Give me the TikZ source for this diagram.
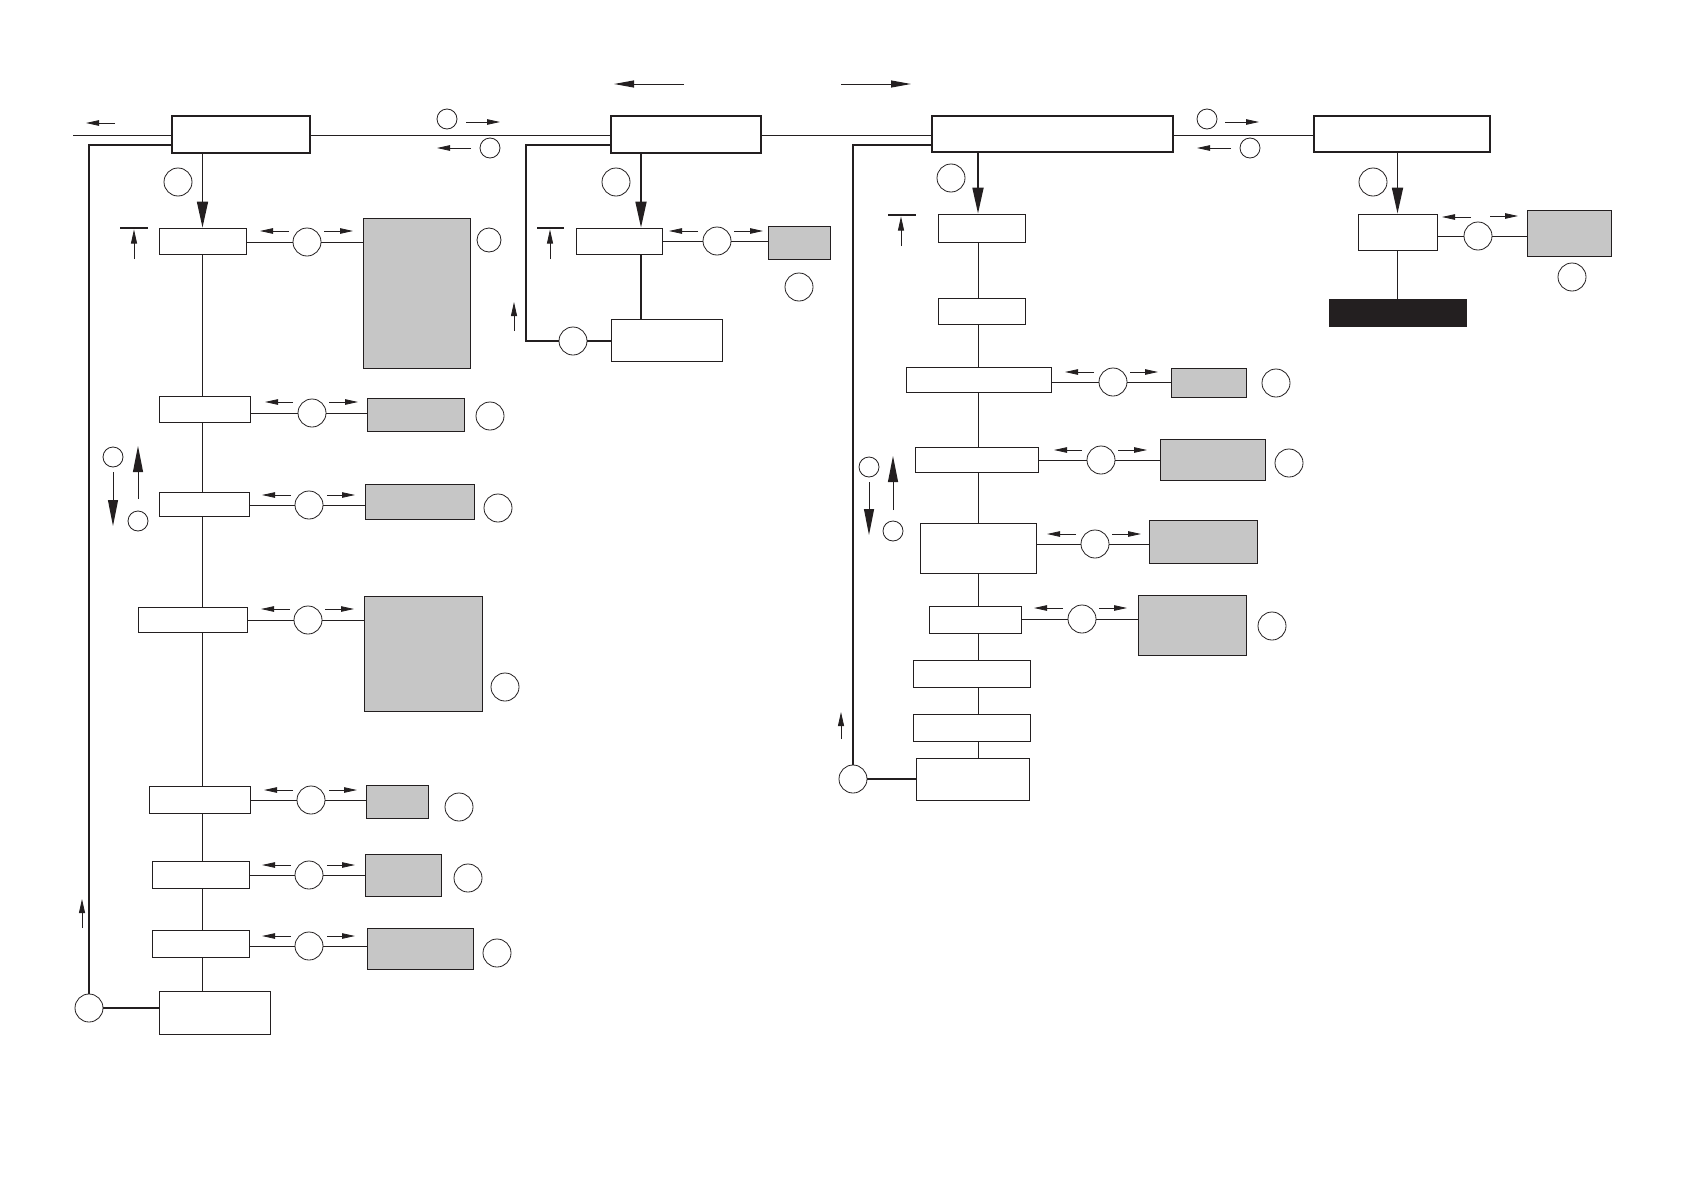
\documentclass[tikz,border=0pt]{standalone}
\usetikzlibrary{arrows.meta}
\definecolor{ink}{HTML}{231F20}
\definecolor{shade}{HTML}{C6C6C6}
\pgfdeclarelayer{bg}
\pgfsetlayers{bg,main}
\begin{document}
\begin{tikzpicture}[x=1pt,y=-1pt,
  box/.style={draw=ink,fill=white,line width=0.8pt,inner sep=0pt,rectangle},
  mainbox/.style={box,line width=1.6pt},
  graybox/.style={box,fill=shade},
  blackbox/.style={box,fill=ink},
  circ/.style={draw=ink,fill=white,circle,inner sep=0pt,minimum size=28pt,line width=0.8pt},
  scirc/.style={circ,minimum size=20pt},
  mcirc/.style={circ,minimum size=24pt},
  thinline/.style={draw=ink,line width=0.8pt},
  midline/.style={draw=ink,line width=1.6pt},
  heavyline/.style={draw=ink,line width=1.6pt},
  bigarr/.style={draw=ink,line width=1.7pt,-{Triangle[length=26pt,width=11pt]}},
  vertarr/.style={draw=ink,line width=1pt,-{Triangle[length=26pt,width=10pt]}},
  toparr/.style={draw=ink,line width=1pt,-{Triangle[length=20pt,width=7pt]}},
  sidearr/.style={draw=ink,line width=0.8pt,-{Triangle[length=13pt,width=5.5pt]}},
  tarr/.style={draw=ink,line width=0.8pt,-{Triangle[length=14pt,width=6pt]}},
  tbar/.style={draw=ink,line width=1.4pt}
]
\useasboundingbox (0,0) rectangle (1684,1191);

% ---------------- top boxes
\node[mainbox,minimum width=138pt,minimum height=37pt] (A1) at (241,134.5) {};
\node[mainbox,minimum width=150pt,minimum height=37pt] (A2) at (686,134.5) {};
\node[mainbox,minimum width=241pt,minimum height=36pt] (A3) at (1052.5,134) {};
\node[mainbox,minimum width=176pt,minimum height=36pt] (A4) at (1402,134) {};

\coordinate (w0) at (73,135);
\coordinate (k1) at (89,145);
\coordinate (k2) at (526,145);
\coordinate (k2b) at (526,341);
\coordinate (k3) at (853,145);
\coordinate (x2) at (641,0);
\coordinate (x3) at (978,0);

% ---------------- column 1
\node[box,minimum width=87pt,minimum height=26pt] (B1) at (202.5,241) {};
\node[circ] (c1) at (307,242) {};
\node[graybox,minimum width=107pt,minimum height=150pt] (g1) at (416.5,293) {};
\node[mcirc] (l1) at (489,240) {};

\node[box,minimum width=91pt,minimum height=26pt] (R12) at (204.5,409) {};
\node[circ] (c12) at (312,413) {};
\node[graybox,minimum width=97pt,minimum height=33pt] (g12) at (415.5,414.5) {};
\node[circ] (l12) at (490,416) {};

\node[box,minimum width=90pt,minimum height=24pt] (R13) at (204,504) {};
\node[circ] (c13) at (309,505) {};
\node[graybox,minimum width=109pt,minimum height=35pt] (g13) at (419.5,501.5) {};
\node[circ] (l13) at (498,508) {};

\node[box,minimum width=109pt,minimum height=25pt] (R14) at (192.5,619.5) {};
\node[circ] (c14) at (308,620) {};
\node[graybox,minimum width=118pt,minimum height=115pt] (g14) at (423,653.5) {};
\node[circ] (l14) at (505,687) {};

\node[box,minimum width=101pt,minimum height=27pt] (R15) at (199.5,799.5) {};
\node[circ] (c15) at (311,800) {};
\node[graybox,minimum width=62pt,minimum height=33pt] (g15) at (397,801.5) {};
\node[circ] (l15) at (459,807) {};

\node[box,minimum width=97pt,minimum height=27pt] (R16) at (200.5,874.5) {};
\node[circ] (c16) at (309,875) {};
\node[graybox,minimum width=76pt,minimum height=42pt] (g16) at (403,875) {};
\node[circ] (l16) at (468,878) {};

\node[box,minimum width=97pt,minimum height=27pt] (R17) at (200.5,943.5) {};
\node[circ] (c17) at (309,946) {};
\node[graybox,minimum width=106pt,minimum height=41pt] (g17) at (420,948.5) {};
\node[circ] (l17) at (497,953) {};

\node[box,minimum width=111pt,minimum height=43pt] (Bot1) at (214.5,1012.5) {};
\node[circ] (L1) at (89,1008) {};
\node[circ] (n1) at (178,182) {};

\node[scirc] (u1) at (113,457) {};
\node[scirc] (d1) at (138,521) {};
\node[scirc] (t1) at (447,119) {};
\node[scirc] (t2) at (490,148) {};

% ---------------- column 2
\node[box,minimum width=86pt,minimum height=26pt] (B2) at (619,241) {};
\node[circ] (c2) at (717,241) {};
\node[graybox,minimum width=62pt,minimum height=33pt] (g2) at (799,242.5) {};
\node[circ] (l2) at (799,287) {};
\node[box,minimum width=111pt,minimum height=42pt] (C2) at (666.5,340) {};
\node[circ] (L2) at (573,341) {};
\node[circ] (n2) at (616,182) {};

% ---------------- column 3
\node[box,minimum width=87pt,minimum height=28pt] (B3) at (981.5,228) {};
\node[box,minimum width=87pt,minimum height=26pt] (C3) at (981.5,311) {};
\node[circ] (n3) at (951,178) {};

\node[box,minimum width=145pt,minimum height=25pt] (D3) at (978.5,379.5) {};
\node[circ] (cD) at (1113,382) {};
\node[graybox,minimum width=75pt,minimum height=29pt] (gD) at (1208.5,382.5) {};
\node[circ] (lD) at (1276,383) {};

\node[box,minimum width=123pt,minimum height=25pt] (E3) at (976.5,459.5) {};
\node[circ] (cE) at (1101,460) {};
\node[graybox,minimum width=105pt,minimum height=41pt] (gE) at (1212.5,459.5) {};
\node[circ] (lE) at (1289,463) {};

\node[box,minimum width=116pt,minimum height=50pt] (F3) at (978,548) {};
\node[circ] (cF) at (1095,544) {};
\node[graybox,minimum width=108pt,minimum height=43pt] (gF) at (1203,541.5) {};

\node[box,minimum width=92pt,minimum height=27pt] (G3) at (975,619.5) {};
\node[circ] (cG) at (1082,619) {};
\node[graybox,minimum width=108pt,minimum height=60pt] (gG) at (1192,625) {};
\node[circ] (lG) at (1272,626) {};

\node[box,minimum width=117pt,minimum height=27pt] (H3) at (971.5,673.5) {};
\node[box,minimum width=117pt,minimum height=27pt] (I3) at (971.5,727.5) {};
\node[box,minimum width=113pt,minimum height=42pt] (J3) at (972.5,779) {};
\node[circ] (L3) at (853,779) {};

\node[scirc] (u3) at (869,467) {};
\node[scirc] (d3) at (893,531) {};
\node[scirc] (t3) at (1207,119) {};
\node[scirc] (t4) at (1250,148) {};

% ---------------- column 4
\node[box,minimum width=79pt,minimum height=36pt] (B4) at (1397.5,232) {};
\node[circ] (n4) at (1373,182) {};
\node[circ] (c4) at (1478,236) {};
\node[graybox,minimum width=84pt,minimum height=46pt] (g4) at (1569,233) {};
\node[circ] (l4) at (1572,277) {};
\node[blackbox,minimum width=137pt,minimum height=27pt] (K4) at (1397.5,312.5) {};

\begin{pgfonlayer}{bg}
% main horizontal line
\draw[thinline] (w0) -- (A1.west |- w0);
\draw[thinline] (A1.east |- w0) -- (A2.west |- w0);
\draw[thinline] (A2.east |- w0) -- (A3.west |- w0);
\draw[thinline] (A3.east |- w0) -- (A4.west |- w0);

% return loops
\draw[heavyline] (A1.west |- k1) -- (k1) -- (L1.north);
\draw[heavyline] (L1.east) -- (Bot1.west |- L1.east);
\draw[heavyline] (A2.west |- k2) -- (k2) -- (k2b) -- (L2.west);
\draw[heavyline] (L2.east) -- (C2.west |- L2.east);
\draw[heavyline] (A3.west |- k3) -- (k3) -- (L3.north);
\draw[heavyline] (L3.east) -- (J3.west |- L3.east);

% column trunks
\draw[bigarr] (A1.south -| B1.north) -- (B1.north);
\draw[midline] (B1.south) -- (Bot1.north -| B1.south);
\draw[bigarr] (A2.south -| x2) -- (B2.north -| x2);
\draw[midline] (B2.south -| x2) -- (C2.north -| x2);
\draw[bigarr] (A3.south -| x3) -- (B3.north -| x3);
\draw[thinline] (B3.south -| x3) -- (J3.north -| x3);
\draw[bigarr] (A4.south -| B4.north) -- (B4.north);
\draw[midline] (B4.south) -- (K4.north);

% side branches
\draw[thinline] (B1.east |- c1) -- (g1.west |- c1);
\draw[thinline] (R12.east |- c12) -- (g12.west |- c12);
\draw[thinline] (R13.east |- c13) -- (g13.west |- c13);
\draw[thinline] (R14.east |- c14) -- (g14.west |- c14);
\draw[thinline] (R15.east |- c15) -- (g15.west |- c15);
\draw[thinline] (R16.east |- c16) -- (g16.west |- c16);
\draw[thinline] (R17.east |- c17) -- (g17.west |- c17);
\draw[thinline] (B2.east |- c2) -- (g2.west |- c2);
\draw[thinline] (D3.east |- cD) -- (gD.west |- cD);
\draw[thinline] (E3.east |- cE) -- (gE.west |- cE);
\draw[thinline] (F3.east |- cF) -- (gF.west |- cF);
\draw[thinline] (G3.east |- cG) -- (gG.west |- cG);
\draw[thinline] (B4.east |- c4) -- (g4.west |- c4);
\end{pgfonlayer}

% ---------------- small direction arrows beside branches
\foreach \y/\a/\b/\c/\d in {231/289/260/324/353, 402/293/265/329/358, 495/291/262/327/355,
  609/290/261/325/354, 790/293/264/329/357, 865/291/262/327/355, 936/291/262/327/355,
  231/698/669/734/763, 372/1094/1065/1130/1158, 450/1082/1054/1118/1147,
  534/1076/1047/1112/1141, 608/1063/1034/1099/1127}{
  \draw[sidearr] (\a,\y) -- (\b,\y);
  \draw[sidearr] (\c,\y) -- (\d,\y);
}
\draw[sidearr] (1471,217) -- (1442,217);
\draw[sidearr] (1490,216) -- (1518,216);

% arrows near the circles on the main line
\draw[sidearr] (466,122) -- (500,122);
\draw[sidearr] (471,148) -- (437,148);
\draw[sidearr] (1225,122) -- (1259,122);
\draw[sidearr] (1231,148) -- (1197,148);
\draw[sidearr] (115,123) -- (86,123);

% top direction arrows
\draw[toparr] (684,84) -- (614,84);
\draw[toparr] (841,84) -- (911,84);

% T markers
\draw[tbar] (120,228) -- (147.5,228);
\draw[tarr] (134,259) -- (134,229.5);
\draw[tbar] (537,228) -- (564,228);
\draw[tarr] (550,259) -- (550,229.5);
\draw[tbar] (888,215) -- (916,215);
\draw[tarr] (901,246) -- (901,216.5);

% up arrows on loops
\draw[tarr] (82,928) -- (82,899);
\draw[tarr] (514,331) -- (514,302);
\draw[tarr] (841,739) -- (841,712);

% up/down arrows
\draw[vertarr] (113,472) -- (113,526);
\draw[vertarr] (138,499) -- (138,446);
\draw[vertarr] (869,482) -- (869,535);
\draw[vertarr] (893,510) -- (893,456);
\end{tikzpicture}
\end{document}
